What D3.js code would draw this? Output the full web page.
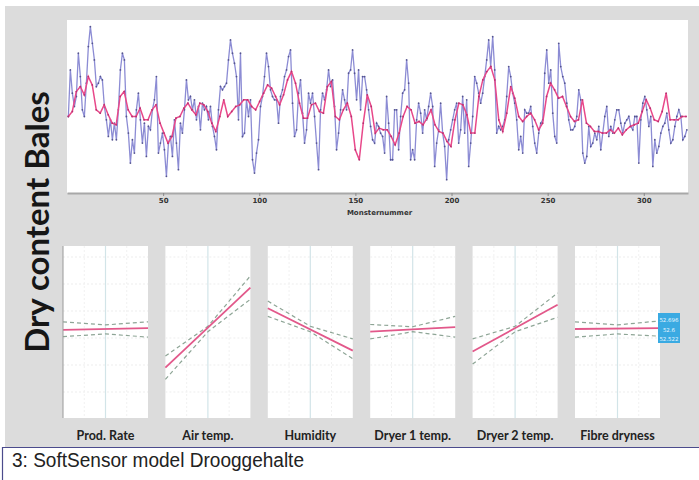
<!DOCTYPE html>
<html>
<head>
<meta charset="utf-8">
<script src="https://cdn.jsdelivr.net/npm/d3@7"></script>
<style>
  body { margin: 0; background: #fff; }
  svg { display: block; }
</style>
</head>
<body>
<svg id="chart" width="699" height="480"></svg>
<script>
var measured = [
  23,37,30,26,29,42,35,25,23,33, 44,50,45,40,32,33,35,34,26,22,
  17,22,16,21,16,25,37,42,40,23, 18,9,16,12,25,30,22,15,21,11,
  20,19,25,28,35,12,15,18,13,5, 15,17,11,22,15,7,21,18,25,34,
  28,29,25,28,22,26,19,27,25,26, 22,26,20,17,13,25,32,
  31,32,33,40,46,42,39,35,22,42, 17,18,28,23,28,10,6,12,16,26,
  29,35,42,38,31,29,28,28,21,29, 31,35,37,41,43,27,17,19,30,34,
  24,15,19,30,27,30,23,15,7,25, 30,28,31,37,32,34,26,13,18,25,
  31,28,25,36,37,43,36,28,37,25, 35,35,31,25,20,16,15,
  21,20,18,17,12,29,21,10,10,25, 25,13,23,30,31,40,33,10,13,10,
  22,27,24,18,25,22,26,30,26,8, 15,19,27,18,14,4,16,19,22,25,
  27,15,19,29,18,28,8,15,23,35, 33,30,27,30,35,40,46,38,47,37,
  18,20,19,20,22,29,38,35,30,27, 22,13,17,12,25,24,24,
  26,20,15,12,18,21,22,36,43,33, 37,24,17,15,45,38,35,33,27,22,
  19,19,20,23,31,28,12,9,11,20, 14,15,18,16,20,13,18,23,26,17,
  20,18,22,25,25,21,18,21,22,23, 20,19,23,23,9,22,27,29,25,20,
  23,8,16,12,14,18,20,21,24,19, 15,16,20,23,25,23,16,17,19
];

// soft sensor prediction (pink), read at half the resolution
var predicted = [
  23,24.5,30.5,32,29.5,35,32.5,25,24,26.5, 23.5,21,20.5,29,30.5,25,23,23,25.5,22,
  22,25,26.5,21,18,15,17,22.5,23,25.5, 27,25,23.5,27,26.5,24.5,21,18.5,23,
  28,23,24.5,26,26.5,28,28,26,25,27.5, 30,32.5,31.5,29,26.5,29.5,34,36.5,33,27,
  22.5,22.5,26.5,27,24.5,24,32,33.5,23,22, 25,27,23,13,10,21,29.5,26,18,
  19.5,19,19,17,14.5,18,23,26,25,21, 21.5,20.5,22.5,25,20.5,18.5,18,15.5,14,22,
  27,26.5,23.5,18,18,29,34,36.5,38,34, 22,18.5,24,32,28.5,23,21.5,23,24,
  22,19,21,29,33,31,28.5,29,26,23, 21.5,22,28,21,20,18.5,18.5,18,18,19,
  18,19.5,17.5,19,20,20.5,21,24.5,28,25.5, 22,21.5,24.5,30,22,22,22,23,23
];

var sampleTicks = [50, 100, 150, 200, 250, 300];
var sampleCount = 323;

// effect plots, one per input
var factors = ['Prod. Rate', 'Air temp.', 'Humidity', 'Dryer 1 temp.', 'Dryer 2 temp.', 'Fibre dryness'];
var effectLow  = [-0.1, -4.3,  2.3, -0.3, -2.5, 0];
var effectHigh = [ 0.1,  4.6, -2.4,  0.2,  2.7, 0.1];
var upperLow   = [ 0.8, -3.0,  3.1,  0.5, -1.1, 0.8];
var upperMid   = [ 0.45, 0.3,  0.3,  0.25, 0.3, 0.45];
var upperHigh  = [ 0.8,  5.9, -1.1,  1.4,  4.0, 0.9];
var lowerLow   = [-0.85,-5.6,  1.4, -1.1, -3.9, -0.9];
var lowerMid   = [-0.55,-0.3, -0.3, -0.3, -0.3, -0.55];
var lowerHigh  = [-0.9,  3.3, -3.3, -0.9,  1.3, -0.8];
var gridLevels = [8, 5, 2, -1, -4, -7];
var boxValues = ['52.696', '52.6', '52.522'];

var svg = d3.select('#chart');

// grey backdrop
svg.append('rect')
  .attr('x', 5).attr('y', 6)
  .attr('width', 694).attr('height', 441)
  .attr('fill', '#dcdcdc');

// ---------- top time series ----------
var x = d3.scaleLinear().domain([0, sampleCount]).range([67, 688]);
var y = d3.scaleLinear().domain([0, 52]).range([193, 20]);

var xBlue = d3.scaleLinear().domain([0, measured.length - 1]).range([x(0.7), x(322.4)]);
var xPink = d3.scaleLinear().domain([0, predicted.length - 1]).range([x(0.7), x(322)]);

svg.append('rect')
  .attr('x', x(0)).attr('y', 20)
  .attr('width', x(sampleCount) - x(0)).attr('height', 173)
  .attr('fill', '#ffffff');

var blueLine = d3.line()
  .x(function(d, i) { return xBlue(i); })
  .y(function(d) { return y(d); });

var pinkLine = d3.line()
  .x(function(d, i) { return xPink(i); })
  .y(function(d) { return y(d); });

svg.append('path')
  .attr('d', blueLine(measured))
  .attr('fill', 'none')
  .attr('stroke', '#8c8cd4')
  .attr('stroke-width', 1.3);

svg.selectAll('circle.blue')
  .data(measured)
  .enter()
  .append('circle')
  .attr('class', 'blue')
  .attr('cx', function(d, i) { return xBlue(i); })
  .attr('cy', function(d) { return y(d); })
  .attr('r', 0.9)
  .attr('fill', '#55558f');

svg.append('path')
  .attr('d', pinkLine(predicted))
  .attr('fill', 'none')
  .attr('stroke', '#e8488a')
  .attr('stroke-width', 1.5);

svg.selectAll('circle.pink')
  .data(predicted)
  .enter()
  .append('circle')
  .attr('class', 'pink')
  .attr('cx', function(d, i) { return xPink(i); })
  .attr('cy', function(d) { return y(d); })
  .attr('r', 0.9)
  .attr('fill', '#b83070');

var xAxis = d3.axisBottom(x)
  .tickValues(sampleTicks)
  .tickSize(3)
  .tickSizeOuter(0);

var axisG = svg.append('g')
  .attr('transform', 'translate(0,193)')
  .call(xAxis);
axisG.select('.domain').attr('stroke', '#a8a8a8').attr('stroke-width', 2);
axisG.selectAll('.tick line').attr('stroke', '#888');
axisG.selectAll('text')
  .attr('fill', '#333')
  .attr('font-family', 'DejaVu Sans')
  .attr('font-weight', 'bold')
  .attr('font-size', 7)
  .attr('dy', '0.6em');

svg.append('text')
  .attr('x', x(sampleCount / 2) + 2)
  .attr('y', 215)
  .attr('text-anchor', 'middle')
  .attr('font-family', 'DejaVu Sans')
  .attr('font-weight', 'bold')
  .attr('font-size', 7)
  .attr('fill', '#333')
  .text('Monsternummer');

// ---------- side title ----------
svg.append('text')
  .attr('transform', 'translate(49,222) rotate(-90)')
  .attr('text-anchor', 'middle')
  .attr('font-family', 'Lato')
  .attr('font-weight', 'bold')
  .attr('font-size', 33)
  .attr('fill', '#161616')
  .text('Dry content Bales');

// ---------- effect panels ----------
var panel = d3.scaleBand().domain(factors).range([63, 660]).paddingInner(0.17);
var ex = d3.scaleLinear().domain([-1, 1]).range([0, panel.bandwidth()]);
var ey = d3.scaleLinear().domain([-10, 10]).range([419, 239]);

var band = d3.line()
  .x(function(d) { return ex(d[0]); })
  .y(function(d) { return ey(d[1]); });

factors.forEach(function(name, i) {
  var g = svg.append('g').attr('transform', 'translate(' + panel(name) + ',0)');

  g.append('rect')
    .attr('x', 0).attr('y', 246)
    .attr('width', panel.bandwidth()).attr('height', 172)
    .attr('fill', '#ffffff');

  g.selectAll('line.grid')
    .data(gridLevels)
    .enter()
    .append('line')
    .attr('class', 'grid')
    .attr('x1', 0).attr('x2', panel.bandwidth())
    .attr('y1', function(d) { return ey(d); })
    .attr('y2', function(d) { return ey(d); })
    .attr('stroke', '#ededed')
    .attr('stroke-dasharray', '2,2');

  g.selectAll('line.vgrid')
    .data([-0.5, 0.5])
    .enter()
    .append('line')
    .attr('class', 'vgrid')
    .attr('x1', function(d) { return ex(d); })
    .attr('x2', function(d) { return ex(d); })
    .attr('y1', 246).attr('y2', 418)
    .attr('stroke', '#f1f1f1')
    .attr('stroke-dasharray', '2,2');

  g.append('line')
    .attr('x1', ex(0)).attr('x2', ex(0))
    .attr('y1', 246).attr('y2', 418)
    .attr('stroke', '#d2e4e8')
    .attr('stroke-width', 1.2);

  g.append('path')
    .attr('d', band([[-1, upperLow[i]], [0, upperMid[i]], [1, upperHigh[i]]]))
    .attr('fill', 'none')
    .attr('stroke', '#8ea596')
    .attr('stroke-width', 1.2)
    .attr('stroke-dasharray', '4,3');

  g.append('path')
    .attr('d', band([[-1, lowerLow[i]], [0, lowerMid[i]], [1, lowerHigh[i]]]))
    .attr('fill', 'none')
    .attr('stroke', '#8ea596')
    .attr('stroke-width', 1.2)
    .attr('stroke-dasharray', '4,3');

  g.append('path')
    .attr('d', band([[-1, effectLow[i]], [1, effectHigh[i]]]))
    .attr('fill', 'none')
    .attr('stroke', '#e2588a')
    .attr('stroke-width', 1.8);

  g.append('text')
    .attr('x', panel.bandwidth() / 2)
    .attr('y', 440)
    .attr('text-anchor', 'middle')
    .attr('font-family', 'Lato')
    .attr('font-weight', 'bold')
    .attr('font-size', 12.5)
    .attr('fill', '#222')
    .text(name);
});

// axis line on the first panel
svg.append('line')
  .attr('x1', panel(factors[0])).attr('x2', panel(factors[0]))
  .attr('y1', 246).attr('y2', 418)
  .attr('stroke', '#9a9a9a');

// value box next to the last panel
var boxX = panel(factors[5]) + panel.bandwidth() - 2;
svg.append('rect')
  .attr('x', boxX).attr('y', 313)
  .attr('width', 22).attr('height', 30)
  .attr('fill', '#3aaae2');

svg.selectAll('text.box')
  .data(boxValues)
  .enter()
  .append('text')
  .attr('class', 'box')
  .attr('x', boxX + 11)
  .attr('y', function(d, i) { return 322 + i * 9.5; })
  .attr('text-anchor', 'middle')
  .attr('font-family', 'DejaVu Sans')
  .attr('font-size', 5.5)
  .attr('fill', '#e8f6ff')
  .text(function(d) { return d; });

// ---------- caption ----------
svg.append('line')
  .attr('x1', 2).attr('x2', 699)
  .attr('y1', 447.5).attr('y2', 447.5)
  .attr('stroke', '#4b4b8c')
  .attr('stroke-width', 1.2);

svg.append('line')
  .attr('x1', 2.5).attr('x2', 2.5)
  .attr('y1', 447).attr('y2', 480)
  .attr('stroke', '#4b4b8c')
  .attr('stroke-width', 1.2);

svg.append('text')
  .attr('x', 12)
  .attr('y', 467)
  .attr('font-family', 'Liberation Sans Narrow, Arial Narrow, sans-serif')
  .attr('font-size', 19.5)
  .attr('fill', '#222')
  .attr('textLength', 292)
  .attr('lengthAdjust', 'spacingAndGlyphs')
  .text('3: SoftSensor model Drooggehalte');
</script>
</body>
</html>
